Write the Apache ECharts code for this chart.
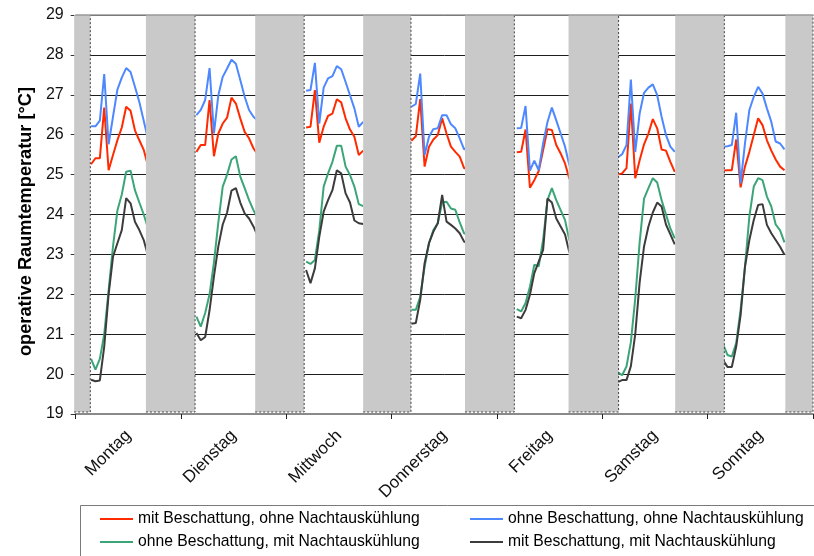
<!DOCTYPE html>
<html><head><meta charset="utf-8">
<script src="https://cdn.jsdelivr.net/npm/echarts@6/dist/echarts.min.js"></script>
<style>html,body{margin:0;padding:0;background:#fff}#c{width:814px;height:556px}</style>
</head><body><div id="c"></div>
<script>
const days = ['Montag', 'Dienstag', 'Mittwoch', 'Donnerstag', 'Freitag', 'Samstag', 'Sonntag'];
const hourLabels = Array.from({length: 168}, (_, i) => String(i));
const yMin = 19, yMax = 29, yStep = 1;

// first hour index of each day's readable segment
const segmentStart = [3, 27, 52, 76, 100, 123, 147];

// night periods (hours) covered by grey bands
const nightBands = [[-0.35, 3.33], [16.0, 27.2], [40.9, 52.06], [65.5, 76.4], [88.7, 99.95], [112.3, 123.7], [136.6, 147.8], [161.7, 168]];

const S_RED = 'mit Beschattung, ohne Nachtauskühlung';
const S_BLUE = 'ohne Beschattung, ohne Nachtauskühlung';
const S_GREEN = 'ohne Beschattung, mit Nachtauskühlung';
const S_BLACK = 'mit Beschattung, mit Nachtauskühlung';

const redDays = [
  [25.26, 25.41, 25.41, 26.68, 25.11, 25.49, 25.86, 26.18, 26.70, 26.60, 26.11, 25.86, 25.62, 25.20],
  [25.57, 25.74, 25.74, 26.87, 25.46, 26.03, 26.28, 26.43, 26.93, 26.78, 26.41, 26.07, 25.91, 25.66, 25.50],
  [26.18, 26.20, 27.12, 25.80, 26.20, 26.47, 26.53, 26.89, 26.81, 26.41, 26.13, 25.95, 25.49, 25.60],
  [25.85, 25.96, 26.89, 25.20, 25.70, 25.88, 25.99, 26.41, 26.03, 25.70, 25.57, 25.45, 25.16, 25.16],
  [25.56, 25.57, 26.13, 24.67, 24.86, 25.09, 25.61, 26.14, 26.12, 25.74, 25.53, 25.28, 24.89],
  [25.00, 25.03, 25.16, 26.78, 24.91, 25.36, 25.76, 26.03, 26.39, 26.16, 25.63, 25.60, 25.32, 25.07],
  [25.10, 25.11, 25.11, 25.88, 24.68, 25.20, 25.57, 25.99, 26.41, 26.24, 25.86, 25.60, 25.38, 25.20, 25.11]
];
const blueDays = [
  [26.21, 26.21, 26.35, 27.52, 25.76, 26.45, 27.13, 27.43, 27.67, 27.57, 27.20, 26.82, 26.35, 25.88],
  [26.49, 26.62, 26.87, 27.67, 26.03, 26.99, 27.45, 27.66, 27.88, 27.78, 27.37, 26.95, 26.62, 26.45, 26.35],
  [27.10, 27.12, 27.80, 26.28, 27.18, 27.41, 27.47, 27.72, 27.64, 27.32, 26.99, 26.66, 26.20, 26.32],
  [26.70, 26.77, 27.53, 25.49, 25.95, 26.14, 26.16, 26.49, 26.49, 26.26, 26.16, 25.91, 25.63, 25.72],
  [26.16, 26.17, 26.72, 25.10, 25.35, 25.11, 25.78, 26.32, 26.68, 26.36, 26.03, 25.70, 25.23],
  [25.43, 25.51, 25.74, 27.38, 25.57, 26.53, 27.05, 27.18, 27.26, 26.99, 26.45, 25.99, 25.70, 25.57],
  [25.70, 25.71, 25.74, 26.55, 24.78, 25.78, 26.62, 26.95, 27.20, 27.03, 26.66, 26.32, 25.83, 25.78, 25.63]
];
const greenDays = [
  [20.38, 20.11, 20.38, 21.00, 22.10, 23.20, 24.10, 24.50, 25.07, 25.10, 24.61, 24.30, 24.00, 23.65],
  [21.44, 21.19, 21.53, 22.00, 22.80, 23.80, 24.70, 25.00, 25.38, 25.46, 24.95, 24.66, 24.36, 24.11, 23.90],
  [22.82, 22.76, 22.86, 23.60, 24.70, 25.03, 25.32, 25.72, 25.72, 25.20, 24.99, 24.70, 24.26, 24.21],
  [21.61, 21.61, 21.94, 22.69, 23.28, 23.61, 23.78, 24.30, 24.32, 24.15, 24.12, 23.80, 23.53, 23.49],
  [21.63, 21.57, 21.78, 22.19, 22.74, 22.70, 23.36, 24.36, 24.66, 24.36, 24.11, 23.86, 23.35],
  [20.05, 19.97, 20.19, 20.80, 21.90, 23.30, 24.40, 24.66, 24.91, 24.80, 24.36, 24.00, 23.65, 23.40],
  [20.75, 20.48, 20.44, 20.78, 21.61, 22.69, 23.95, 24.70, 24.91, 24.86, 24.45, 24.20, 23.75, 23.60, 23.30]
];
const blackDays = [
  [19.86, 19.82, 19.84, 20.69, 22.00, 22.94, 23.28, 23.61, 24.41, 24.28, 23.82, 23.61, 23.36, 22.96],
  [21.03, 20.85, 20.93, 21.60, 22.45, 23.20, 23.75, 24.05, 24.60, 24.66, 24.30, 24.03, 23.90, 23.70, 23.45],
  [22.61, 22.28, 22.65, 23.44, 24.07, 24.36, 24.61, 25.11, 25.03, 24.53, 24.30, 23.85, 23.78, 23.76],
  [21.26, 21.28, 21.86, 22.78, 23.28, 23.57, 23.78, 24.49, 23.82, 23.74, 23.65, 23.53, 23.32, 23.28],
  [21.44, 21.40, 21.61, 21.99, 22.53, 22.82, 23.11, 24.40, 24.30, 23.90, 23.70, 23.50, 23.05],
  [19.80, 19.85, 19.85, 20.20, 21.00, 22.30, 23.20, 23.70, 24.05, 24.30, 24.20, 23.75, 23.50, 23.25],
  [20.35, 20.18, 20.18, 20.69, 21.48, 22.69, 23.36, 23.86, 24.24, 24.26, 23.74, 23.53, 23.36, 23.19, 22.99]
];

function toHourly(dayArrays) {
  const out = new Array(hourLabels.length).fill(null);
  dayArrays.forEach((arr, d) => arr.forEach((v, i) => { out[segmentStart[d] + i] = v; }));
  return out;
}

const FONT = '"Liberation Sans", Arial, sans-serif';
const chart = echarts.init(document.getElementById('c'), null, {renderer: 'canvas'});

function lineSeries(name, color, dayArrays) {
  return {
    name, type: 'line', xAxisIndex: 1, yAxisIndex: 0,
    data: toHourly(dayArrays), symbol: 'none', connectNulls: false,
    color, lineStyle: {color, width: 2}, z: 2, silent: true
  };
}

const legendBase = {
  icon: 'rect', itemWidth: 33, itemHeight: 2, padding: 0, selectedMode: false,
  textStyle: {fontSize: 15.7, color: '#000', fontFamily: FONT}
};

chart.setOption({
  animation: false,
  backgroundColor: '#fff',
  grid: {left: 75.7, right: 1, top: 15, bottom: 142, containLabel: false},
  xAxis: [
    {
      type: 'category', data: days, position: 'bottom', boundaryGap: true,
      axisLine: {show: true, lineStyle: {color: '#8a8a8a', width: 2}},
      axisTick: {show: true, length: 5, interval: 0, lineStyle: {color: '#222'}},
      axisLabel: {rotate: 45, interval: 0, margin: 19, fontSize: 17, color: '#111', fontFamily: FONT},
      splitLine: {show: false}
    },
    {type: 'category', data: hourLabels, position: 'bottom', boundaryGap: true, show: false},
    {
      type: 'value', min: 0, max: 168, position: 'top', z: 10,
      axisLine: {show: true, lineStyle: {color: '#999', width: 1.5}},
      axisTick: {show: false}, axisLabel: {show: false}, splitLine: {show: false}
    }
  ],
  yAxis: {
    type: 'value', min: yMin, max: yMax, interval: yStep,
    name: 'operative Raumtemperatur [°C]', nameLocation: 'middle', nameRotate: 90, nameGap: 40,
    nameTextStyle: {fontSize: 18.2, fontWeight: 'bold', color: '#000', fontFamily: FONT, padding: [0, 14, 0, 0]},
    axisLine: {show: false},
    axisTick: {show: true, length: 5, lineStyle: {color: '#333'}},
    axisLabel: {fontSize: 16, color: '#111', margin: 12, fontFamily: FONT},
    splitLine: {show: true, lineStyle: {color: '#1e1e1e', width: 1}}
  },
  legend: [
    Object.assign({data: [S_RED], left: 100, top: 511}, legendBase),
    Object.assign({data: [S_BLUE], left: 470, top: 511}, legendBase),
    Object.assign({data: [S_GREEN], left: 100, top: 534}, legendBase),
    Object.assign({data: [S_BLACK], left: 470, top: 534}, legendBase)
  ],
  graphic: [{
    type: 'rect', shape: {x: 80.5, y: 505.5, width: 760, height: 80},
    style: {fill: 'none', stroke: '#7a7a7a', lineWidth: 1}, silent: true
  }],
  series: [
    lineSeries(S_RED, '#ff2a00', redDays),
    lineSeries(S_BLUE, '#4d88ff', blueDays),
    lineSeries(S_GREEN, '#3ca578', greenDays),
    lineSeries(S_BLACK, '#3c3c3c', blackDays),
    {
      type: 'custom', xAxisIndex: 2, yAxisIndex: 0, z: 5, silent: true, clip: false,
      data: nightBands,
      renderItem: function (params, api) {
        const p0 = api.coord([api.value(0), yMax]);
        const p1 = api.coord([api.value(1), yMin]);
        const x0 = p0[0], x1 = p1[0], yTop = p0[1], yBot = p1[1] - 2;
        return {
          type: 'group',
          children: [
            {type: 'rect', shape: {x: x0, y: yTop, width: x1 - x0, height: yBot - yTop},
             style: {fill: '#c9c9c9'}},
            {type: 'polyline', shape: {points: [[x0, yBot], [x1, yBot], [x1, yTop]]},
             style: {stroke: '#444', lineWidth: 1, lineDash: [2, 2], fill: null}}
          ]
        };
      }
    }
  ]
});
</script>
</body></html>
